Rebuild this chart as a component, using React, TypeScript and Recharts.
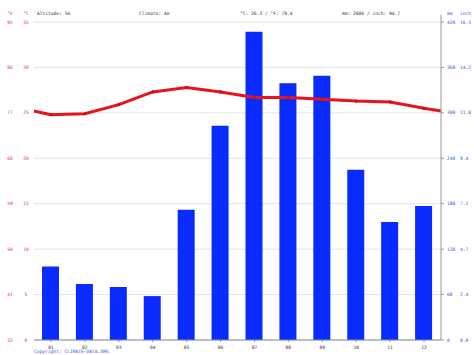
import React from 'react';
import { ComposedChart, Bar, Line, XAxis, YAxis, CartesianGrid } from 'recharts';

const months = ['01', '02', '03', '04', '05', '06', '07', '08', '09', '10', '11', '12'];
const precipMm = [97, 74, 70, 58, 172, 283, 407, 339, 349, 225, 156, 177];
const tempC = [24.8, 24.9, 25.9, 27.3, 27.8, 27.3, 26.7, 26.7, 26.5, 26.3, 26.2, 25.5];
const tempEdgeC = 25.2;
const mmTicks = [0, 60, 120, 180, 240, 300, 360, 420];
const inchLabels = ['0.0', '2.4', '4.7', '7.1', '9.4', '11.8', '14.2', '16.5'];
const cTicks = [0, 5, 10, 15, 20, 25, 30, 35];
const fLabels = ['32', '41', '50', '59', '68', '77', '86', '95'];

const barData = months.map((m, i) => ({ month: m, mm: precipMm[i] }));
const lineData = [
  { x: 0, t: tempEdgeC, edge: true },
  ...tempC.map((t, i) => ({ x: i + 0.5, t, edge: false })),
  { x: 12, t: tempEdgeC, edge: true },
];

const FONT = '"DejaVu Sans Mono", monospace';
const FS = 4.6;
const RED = '#e8323c';
const BLUE = '#3a4fd8';

const LeftTick = (props: any) => {
  const { y, index } = props;
  return (
    <g>
      <text x={10} y={y} textAnchor="middle" dominantBaseline="central" fontFamily={FONT} fontSize={FS} fill={RED}>
        {fLabels[index]}
      </text>
      <text x={26} y={y} textAnchor="middle" dominantBaseline="central" fontFamily={FONT} fontSize={FS} fill={RED}>
        {cTicks[index]}
      </text>
    </g>
  );
};

const RightTick = (props: any) => {
  const { y, index } = props;
  return (
    <g>
      <text x={447} y={y} textAnchor="start" dominantBaseline="central" fontFamily={FONT} fontSize={FS} fill={BLUE}>
        {mmTicks[index]}
      </text>
      <text x={460} y={y} textAnchor="start" dominantBaseline="central" fontFamily={FONT} fontSize={FS} fill={BLUE}>
        {inchLabels[index]}
      </text>
    </g>
  );
};

const BottomTick = (props: any) => {
  const { x, payload } = props;
  return (
    <text x={x} y={347} textAnchor="middle" dominantBaseline="central" fontFamily={FONT} fontSize={FS} fill="#333">
      {payload.value}
    </text>
  );
};

const Dot = (props: any) => {
  const { cx, cy, payload, index } = props;
  if (payload.edge) return <g key={'d' + index} />;
  return <circle key={'d' + index} cx={cx} cy={cy} r={1.6} fill="#c8101a" />;
};

export default function App() {
  return (
    <div style={{ position: 'absolute', left: 0, top: 0, width: 474, height: 355, background: '#fff' }}>
      <ComposedChart
        width={474}
        height={355}
        data={barData}
        margin={{ top: 22, right: 0, bottom: 7, left: 0 }}
        barCategoryGap={0}
      >
        <CartesianGrid xAxisId="cat" yAxisId="mm" vertical={false} stroke="#e4e4e4" strokeWidth={1} />
        <XAxis
          xAxisId="cat"
          dataKey="month"
          height={8}
          axisLine={{ stroke: '#7f8da0' }}
          tickLine={{ stroke: '#7f8da0' }}
          tickSize={2}
          tick={<BottomTick />}
          interval={0}
        />
        <XAxis xAxisId="num" type="number" dataKey="x" domain={[0, 12]} hide />
        <YAxis
          yAxisId="c"
          orientation="left"
          width={34}
          domain={[0, 35]}
          ticks={cTicks}
          axisLine={false}
          tickLine={false}
          tick={<LeftTick />}
          interval={0}
        />
        <YAxis
          yAxisId="mm"
          orientation="right"
          width={33}
          domain={[0, 420]}
          ticks={mmTicks}
          axisLine={{ stroke: '#999' }}
          tickLine={{ stroke: '#999' }}
          tickSize={3}
          tick={<RightTick />}
          interval={0}
        />
        <Bar xAxisId="cat" yAxisId="mm" dataKey="mm" fill="#0a2bff" barSize={17} isAnimationActive={false} />
        <Line
          xAxisId="num"
          yAxisId="c"
          data={lineData}
          dataKey="t"
          type="linear"
          stroke="#e8141c"
          strokeWidth={3}
          dot={<Dot />}
          activeDot={false}
          isAnimationActive={false}
        />
      </ComposedChart>
      <svg width={474} height={355} style={{ position: 'absolute', left: 0, top: 0, pointerEvents: 'none' }}>
        <line x1={441} y1={15} x2={441} y2={22} stroke="#999" />
        <g fontFamily={FONT} fontSize={FS} dominantBaseline="central">
          <text x={10} y={13} textAnchor="middle" fill={RED}>°F</text>
          <text x={26} y={13} textAnchor="middle" fill={RED}>°C</text>
          <text x={37} y={13} fill="#333">Altitude: 5m</text>
          <text x={139} y={13} fill="#333">Climate: Am</text>
          <text x={240} y={13} fill="#333">°C: 26.3 / °F: 79.4</text>
          <text x={342} y={13} fill="#333">mm: 2606 / inch: 94.7</text>
          <text x={447} y={13} fill={BLUE}>mm</text>
          <text x={460} y={13} fill={BLUE}>inch</text>
          <text x={34} y={351} fill={BLUE}>Copyright: CLIMATE-DATA.ORG</text>
        </g>
      </svg>
    </div>
  );
}
